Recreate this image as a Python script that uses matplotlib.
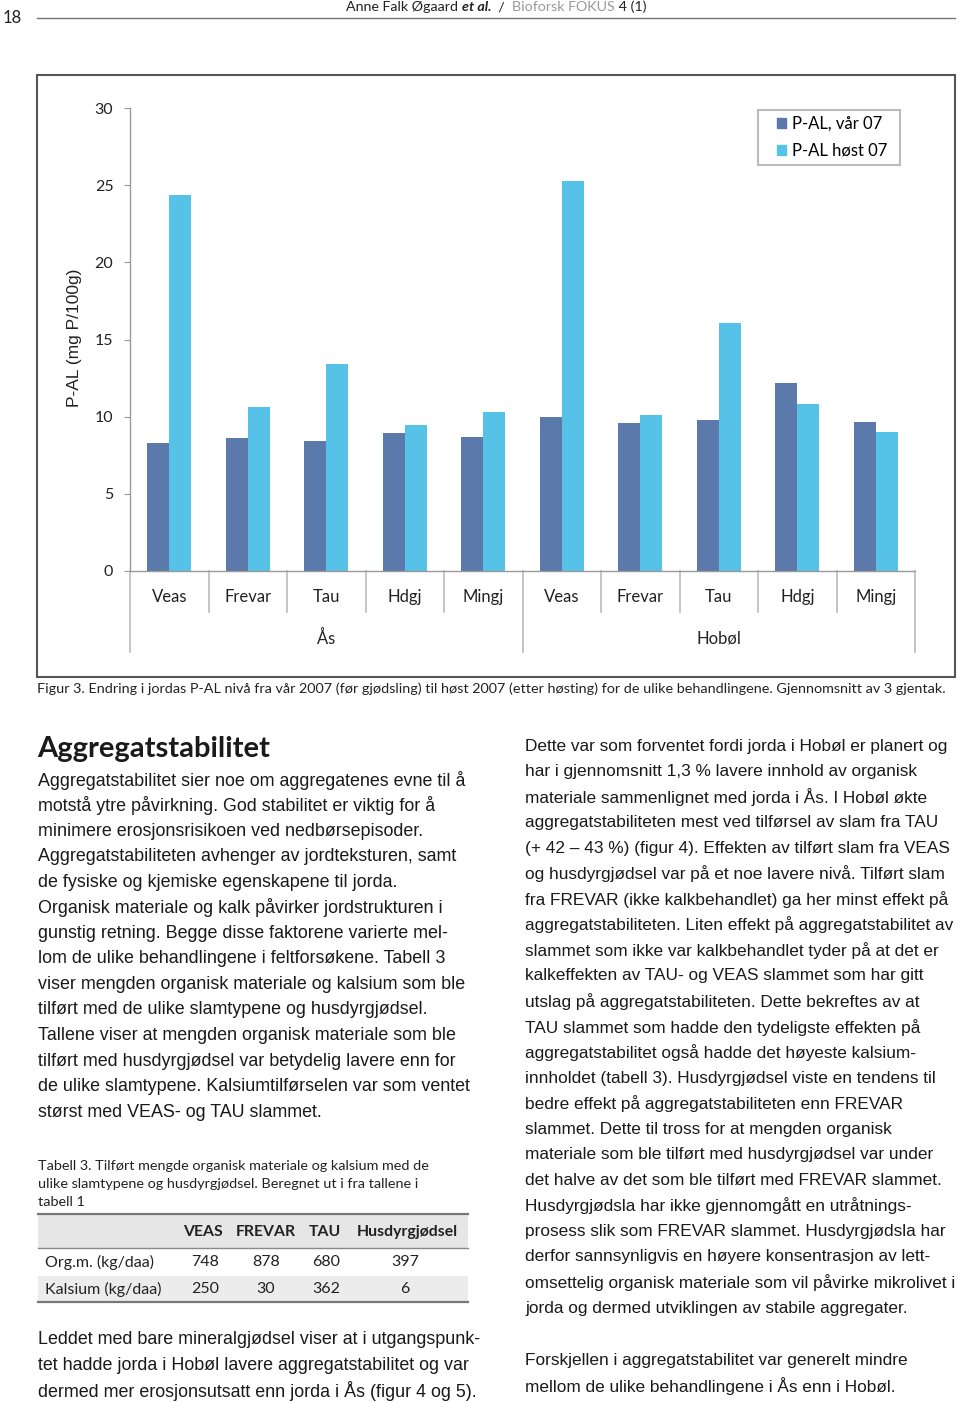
import matplotlib
matplotlib.use("Agg")
import matplotlib.pyplot as plt
from matplotlib.patches import Rectangle, Patch

# chart data
treatments = ["Veas", "Frevar", "Tau", "Hdgj", "Mingj", "Veas", "Frevar", "Tau", "Hdgj", "Mingj"]
sites = ["Ås", "Hobøl"]
pal_spring = [8.27, 8.64, 8.45, 8.92, 8.66, 10.0, 9.61, 9.8, 12.16, 9.64]
pal_autumn = [24.39, 10.6, 13.42, 9.44, 10.32, 25.3, 10.1, 16.05, 10.85, 8.99]
series_names = ["P-AL, vår 07", "P-AL høst 07"]
y_ticks = [0, 5, 10, 15, 20, 25, 30]

caption = ("Figur 3. Endring i jordas P-AL nivå fra vår 2007 (før gjødsling) til høst 2007 "
           "(etter høsting) for de ulike behandlingene. Gjennomsnitt av 3 gjentak.")

# table data
tab_caption = ["Tabell 3. Tilført mengde organisk materiale og kalsium med de",
               "ulike slamtypene og husdyrgjødsel. Beregnet ut i fra tallene i",
               "tabell 1"]
tab_cols = ["VEAS", "FREVAR", "TAU", "Husdyrgjødsel"]
tab_rows = ["Org.m. (kg/daa)", "Kalsium (kg/daa)"]
tab_vals = [[748, 878, 680, 397], [250, 30, 362, 6]]

heading = "Aggregatstabilitet"
left_lines = [
    "Aggregatstabilitet sier noe om aggregatenes evne til å",
    "motstå ytre påvirkning. God stabilitet er viktig for å",
    "minimere erosjonsrisikoen ved nedbørsepisoder.",
    "Aggregatstabiliteten avhenger av jordteksturen, samt",
    "de fysiske og kjemiske egenskapene til jorda.",
    "Organisk materiale og kalk påvirker jordstrukturen i",
    "gunstig retning. Begge disse faktorene varierte mel-",
    "lom de ulike behandlingene i feltforsøkene. Tabell 3",
    "viser mengden organisk materiale og kalsium som ble",
    "tilført med de ulike slamtypene og husdyrgjødsel.",
    "Tallene viser at mengden organisk materiale som ble",
    "tilført med husdyrgjødsel var betydelig lavere enn for",
    "de ulike slamtypene. Kalsiumtilførselen var som ventet",
    "størst med VEAS- og TAU slammet.",
]
left_lines2 = [
    "Leddet med bare mineralgjødsel viser at i utgangspunk-",
    "tet hadde jorda i Hobøl lavere aggregatstabilitet og var",
    "dermed mer erosjonsutsatt enn jorda i Ås (figur 4 og 5).",
]
right_lines = [
    "Dette var som forventet fordi jorda i Hobøl er planert og",
    "har i gjennomsnitt 1,3 % lavere innhold av organisk",
    "materiale sammenlignet med jorda i Ås. I Hobøl økte",
    "aggregatstabiliteten mest ved tilførsel av slam fra TAU",
    "(+ 42 – 43 %) (figur 4). Effekten av tilført slam fra VEAS",
    "og husdyrgjødsel var på et noe lavere nivå. Tilført slam",
    "fra FREVAR (ikke kalkbehandlet) ga her minst effekt på",
    "aggregatstabiliteten. Liten effekt på aggregatstabilitet av",
    "slammet som ikke var kalkbehandlet tyder på at det er",
    "kalkeffekten av TAU- og VEAS slammet som har gitt",
    "utslag på aggregatstabiliteten. Dette bekreftes av at",
    "TAU slammet som hadde den tydeligste effekten på",
    "aggregatstabilitet også hadde det høyeste kalsium-",
    "innholdet (tabell 3). Husdyrgjødsel viste en tendens til",
    "bedre effekt på aggregatstabiliteten enn FREVAR",
    "slammet. Dette til tross for at mengden organisk",
    "materiale som ble tilført med husdyrgjødsel var under",
    "det halve av det som ble tilført med FREVAR slammet.",
    "Husdyrgjødsla har ikke gjennomgått en utråtnings-",
    "prosess slik som FREVAR slammet. Husdyrgjødsla har",
    "derfor sannsynligvis en høyere konsentrasjon av lett-",
    "omsettelig organisk materiale som vil påvirke mikrolivet i",
    "jorda og dermed utviklingen av stabile aggregater.",
]
right_lines2 = [
    "Forskjellen i aggregatstabilitet var generelt mindre",
    "mellom de ulike behandlingene i Ås enn i Hobøl.",
]

W, H = 960, 1402
DARK = "#5b79ab"
LIGHT = "#57c2e8"
CHART_FONT = ["Lato", "DejaVu Sans"]
BODY_FONT = ["Liberation Sans", "DejaVu Sans"]

fig = plt.figure(figsize=(W / 100, H / 100), dpi=100)

# page layer in pixel coordinates
page = fig.add_axes([0, 0, 1, 1], zorder=0)
page.set_xlim(0, W)
page.set_ylim(H, 0)
page.axis("off")

# running header, pieces laid out one after another
page.text(3, 18, "18", fontsize=12, family=CHART_FONT, va="center", ha="left", color="#222")
page.plot([37, 955], [18, 18], color="#777", lw=1.0)
renderer = fig.canvas.get_renderer()
header_parts = [("Anne Falk Øgaard ", {}, "#222"),
                ("et al.", {"style": "italic", "weight": "bold"}, "#222"),
                ("  /  ", {}, "#222"),
                ("Bioforsk FOKUS", {}, "#999"),
                (" 4 (1)", {}, "#222")]
hx = 346
for s, kw, col in header_parts:
    t = page.text(hx, 7, s, fontsize=10.3, family=CHART_FONT, va="center", ha="left", color=col, **kw)
    hx += t.get_window_extent(renderer).width

# chart frame
page.add_patch(Rectangle((37, 75), 918, 602, fill=False, ec="#555", lw=1.5))

# chart axes
ax_l, ax_r, ax_t, ax_b = 130, 915, 108, 571
ax = fig.add_axes([ax_l / W, 1 - ax_b / H, (ax_r - ax_l) / W, (ax_b - ax_t) / H], zorder=2)
ax.patch.set_alpha(0)
x = list(range(len(treatments)))
bw = 0.28
ax.bar([i - bw / 2 for i in x], pal_spring, bw, color=DARK, zorder=2)
ax.bar([i + bw / 2 for i in x], pal_autumn, bw, color=LIGHT, zorder=2)
ax.set_xlim(-0.5, len(x) - 0.5)
ax.set_ylim(0, 30)
ax.set_yticks(y_ticks)
ax.set_yticklabels([str(v) for v in y_ticks], family=CHART_FONT, fontsize=11.5, color="#222")
ax.tick_params(axis="y", length=4, color="#999", pad=8)
ax.set_xticks(x)
ax.set_xticklabels(treatments, family=CHART_FONT, fontsize=12, color="#222")
ax.tick_params(axis="x", length=0, pad=13)
for s in ["top", "right"]:
    ax.spines[s].set_visible(False)
for s in ["left", "bottom"]:
    ax.spines[s].set_color("#999")
    ax.spines[s].set_linewidth(1.0)

h_px = ax_b - ax_t
tr = ax.get_xaxis_transform()
for i in range(len(x) + 1):
    xb = i - 0.5
    depth = 81 if i % 5 == 0 else 41
    ax.plot([xb, xb], [0, -depth / h_px], transform=tr, color="#bbb", lw=1.2, clip_on=False)
for g, name in enumerate(sites):
    ax.text(g * 5 + 2, -67 / h_px, name, transform=tr, ha="center", va="center",
            family=CHART_FONT, fontsize=12, color="#222")

# legend: frameless legend inside a drawn box
page.add_patch(Rectangle((758, 110), 142, 55, fill=False, ec="#bbb", lw=1.5))
handles = [Patch(color=DARK), Patch(color=LIGHT)]
ax.legend(handles, series_names, loc="upper left", bbox_to_anchor=(777 / W, 1 - 116 / H),
          bbox_transform=fig.transFigure, prop={"family": CHART_FONT, "size": 12},
          frameon=False, handlelength=0.55, handleheight=0.55,
          handletextpad=0.35, borderpad=0.0, labelspacing=0.66, borderaxespad=0)

page.text(75, 338, "P-AL (mg P/100g)", rotation=90, ha="center", va="center",
          family=BODY_FONT, fontsize=12.5, color="#222")

page.text(37, 689, caption, fontsize=10.35, family=CHART_FONT, va="center", ha="left", color="#222")

# heading and body columns
page.text(37, 749, heading, fontsize=21, weight="bold", family=CHART_FONT,
          va="center", ha="left", color="#1a1a1a")

line_h = 25.55
left_fs = 12.9
right_fs = 12.4
for k, t in enumerate(left_lines):
    page.text(38, 780 + k * line_h, t, fontsize=left_fs, family=BODY_FONT, va="center", color="#1a1a1a")
for k, t in enumerate(left_lines2):
    page.text(38, 1340 + k * line_h, t, fontsize=left_fs, family=BODY_FONT, va="center", color="#1a1a1a")
for k, t in enumerate(right_lines):
    page.text(525, 746 + k * line_h, t, fontsize=right_fs, family=BODY_FONT, va="center", color="#1a1a1a")
for k, t in enumerate(right_lines2):
    page.text(525, 1360 + k * line_h, t, fontsize=right_fs, family=BODY_FONT, va="center", color="#1a1a1a")

# table 3
for k, t in enumerate(tab_caption):
    page.text(38, 1166 + k * 18, t, fontsize=10.4, family=CHART_FONT, va="center", color="#222")
page.add_patch(Rectangle((38, 1214), 430, 34, color="#e6e6e6", lw=0))
page.add_patch(Rectangle((38, 1276), 430, 26, color="#ececec", lw=0))
page.plot([38, 468], [1214, 1214], color="#777", lw=1.6)
page.plot([38, 468], [1248, 1248], color="#888", lw=1.0)
page.plot([38, 468], [1302, 1302], color="#777", lw=1.6)
col_x = [203, 266, 325, 407]
val_x = [205, 266, 326, 405]
for cx, c in zip(col_x, tab_cols):
    page.text(cx, 1232, c, fontsize=11.3, weight="bold", family=CHART_FONT, ha="center",
              va="center", color="#222")
for r, (name, vals) in enumerate(zip(tab_rows, tab_vals)):
    yy = 1262 + r * 27
    page.text(45, yy, name, fontsize=11.5, family=CHART_FONT, va="center", color="#222")
    for vx, v in zip(val_x, vals):
        page.text(vx, yy, str(v), fontsize=11.5, family=CHART_FONT, ha="center", va="center",
                  color="#222")

fig.savefig("out.png", dpi=100)
